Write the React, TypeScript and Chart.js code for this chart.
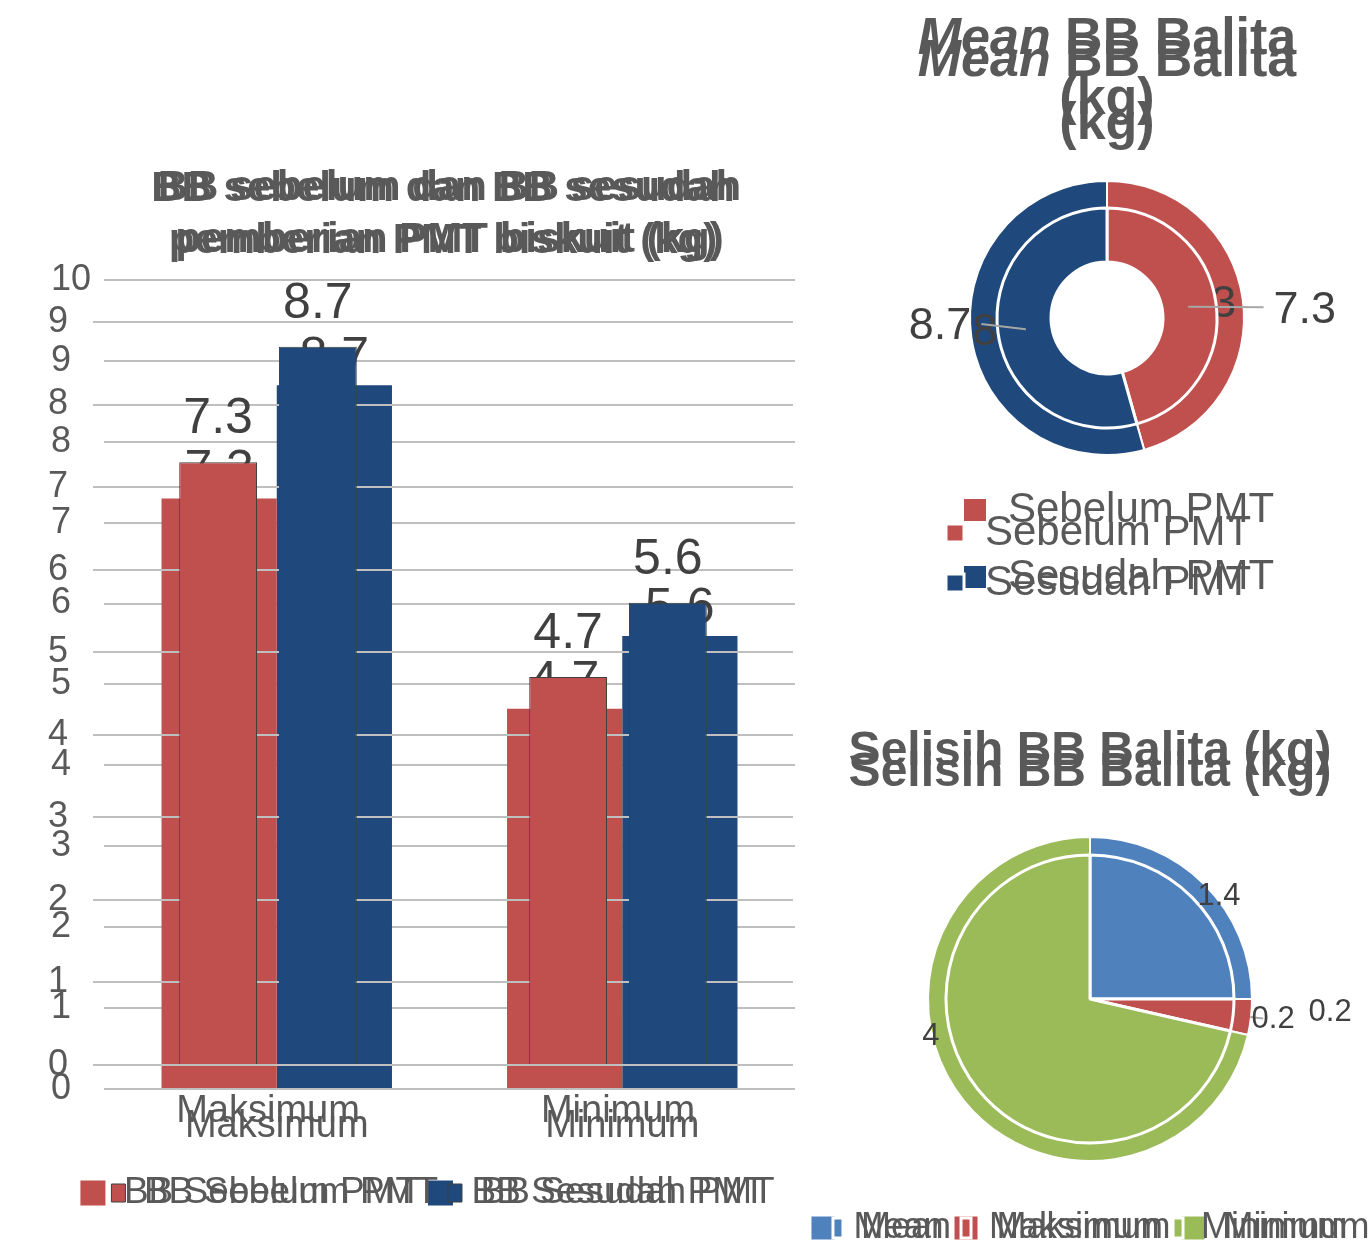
import React, { useEffect, useRef } from 'react';
import { Chart, registerables } from 'chart.js';

Chart.register(...registerables);

// ---------------- data ----------------
const barCategories = ['Maksimum', 'Minimum'];
const barSeriesNames = ['BB Sebelum PMT', 'BB Sesudah PMT'];
const bbSebelum = [7.3, 4.7];
const bbSesudah = [8.7, 5.6];
const barTitle = ['BB sebelum dan BB sesudah', 'pemberian PMT biskuit (kg)'];

const meanLabels = ['Sebelum PMT', 'Sesudah PMT'];
const meanValues = [7.3, 8.7];

const selisihLabels = ['Mean', 'Maksimum', 'Minimum'];
const selisihValues = [1.4, 0.2, 4];

// ---------------- styles ----------------
const FONT = '"Liberation Sans", Arial, Helvetica, sans-serif';
const GREY = '#595959';
const LABEL = '#404040';
const RED = '#C0504D';
const NAVY = '#1F497D';
const BLUE = '#4F81BD';
const GREEN = '#9BBB59';

type Seg = { text: string; italic?: boolean };

function makeRichTitle(id: string, lines: Seg[][], ys: number[], size: number) {
  return {
    id,
    afterDraw(chart: any) {
      const ctx = chart.ctx;
      const ca = chart.chartArea;
      const cx = (ca.left + ca.right) / 2;
      ctx.save();
      ctx.fillStyle = GREY;
      ctx.textBaseline = 'middle';
      ctx.textAlign = 'left';
      lines.forEach((line, li) => {
        const segs = line.map((s) => ({
          text: s.text,
          font: `${s.italic ? 'italic ' : ''}bold ${size}px ${FONT}`,
          w: 0,
        }));
        let total = 0;
        segs.forEach((s) => {
          ctx.font = s.font;
          s.w = ctx.measureText(s.text).width;
          total += s.w;
        });
        let x = cx - total / 2;
        segs.forEach((s) => {
          ctx.font = s.font;
          ctx.fillText(s.text, x, ys[li]);
          x += s.w;
        });
      });
      ctx.restore();
    },
  };
}

function makeBarLabels(id: string, offset: number, size: number) {
  return {
    id,
    afterDatasetsDraw(chart: any) {
      const ctx = chart.ctx;
      ctx.save();
      ctx.font = `${size}px ${FONT}`;
      ctx.fillStyle = LABEL;
      ctx.textAlign = 'center';
      ctx.textBaseline = 'alphabetic';
      chart.data.datasets.forEach((ds: any, i: number) => {
        const meta = chart.getDatasetMeta(i);
        meta.data.forEach((el: any, j: number) => {
          ctx.fillText(String(ds.data[j]), el.x, el.y - offset);
        });
      });
      ctx.restore();
    },
  };
}

type ArcLabel = {
  index: number;
  r: number; // factor of outer radius
  d: number; // angle offset (deg) from slice middle
  leader?: { kind: 'toText' | 'radial'; from: number; to?: number };
};

function makeArcLabels(id: string, under: ArcLabel[], over: ArcLabel[], size: number) {
  const drawSet = (chart: any, specs: ArcLabel[]) => {
    const ctx = chart.ctx;
    const meta = chart.getDatasetMeta(0);
    const values = chart.data.datasets[0].data;
    ctx.save();
    ctx.font = `${size}px ${FONT}`;
    ctx.fillStyle = LABEL;
    ctx.textAlign = 'center';
    ctx.textBaseline = 'middle';
    specs.forEach((sp) => {
      const arc = meta.data[sp.index];
      if (!arc) return;
      const p = arc.getProps(['x', 'y', 'startAngle', 'endAngle', 'outerRadius'], true);
      const midRaw = (p.startAngle + p.endAngle) / 2;
      const mid = midRaw + (sp.d * Math.PI) / 180;
      const r = p.outerRadius * sp.r;
      const lx = p.x + Math.cos(mid) * r;
      const ly = p.y + Math.sin(mid) * r;
      const text = String(values[sp.index]);
      const tw = ctx.measureText(text).width;
      if (sp.leader) {
        ctx.save();
        ctx.strokeStyle = '#a6a6a6';
        ctx.lineWidth = 2;
        ctx.beginPath();
        const fr = p.outerRadius * sp.leader.from;
        const x1 = p.x + Math.cos(midRaw) * fr;
        const y1 = p.y + Math.sin(midRaw) * fr;
        ctx.moveTo(x1, y1);
        if (sp.leader.kind === 'toText') {
          const side = lx > p.x ? -1 : 1;
          ctx.lineTo(lx + side * (tw / 2 + 10), ly - 3);
        } else {
          const tr = p.outerRadius * (sp.leader.to || 1);
          ctx.lineTo(p.x + Math.cos(midRaw) * tr, p.y + Math.sin(midRaw) * tr);
        }
        ctx.stroke();
        ctx.restore();
      }
      ctx.fillText(text, lx, ly);
    });
    ctx.restore();
  };
  return {
    id,
    beforeDatasetsDraw(chart: any) {
      drawSet(chart, under);
    },
    afterDatasetsDraw(chart: any) {
      drawSet(chart, over);
    },
  };
}

// ---------------- bar chart configs ----------------
type BarLayer = {
  padL: number;
  padR: number;
  padB: number;
  yMax: number;
  yWidth: number;
  yPad: number;
  cross: 'near' | 'far';
  xHeight: number;
  xPad: number;
  titlePad: { top: number; bottom: number };
  cat: number;
  bar: number;
  borderW: number;
  boxW: number;
  boxH: number;
  legendFull: boolean;
  labelOffset: number;
  id: string;
};

function barConfig(p: BarLayer): any {
  return {
    type: 'bar',
    data: {
      labels: barCategories,
      datasets: [
        {
          label: barSeriesNames[0],
          data: bbSebelum,
          backgroundColor: RED,
          borderColor: '#3f3f3f',
          borderWidth: p.borderW,
        },
        {
          label: barSeriesNames[1],
          data: bbSesudah,
          backgroundColor: NAVY,
          borderColor: '#3f3f3f',
          borderWidth: p.borderW,
        },
      ],
    },
    options: {
      animation: false,
      responsive: true,
      maintainAspectRatio: false,
      layout: { padding: { left: p.padL, right: p.padR, top: 0, bottom: p.padB } },
      datasets: { bar: { categoryPercentage: p.cat, barPercentage: p.bar } },
      scales: {
        x: {
          grid: { display: false, drawTicks: false },
          border: { display: false },
          ticks: { color: GREY, font: { family: FONT, size: 38 }, padding: p.xPad },
          afterFit: (s: any) => {
            s.height = p.xHeight;
          },
        },
        y: {
          min: 0,
          max: p.yMax,
          ticks: {
            stepSize: 1,
            color: GREY,
            font: { family: FONT, size: 36 },
            padding: p.yPad,
            crossAlign: p.cross,
          },
          grid: { color: '#bfbfbf', lineWidth: 2, drawTicks: false },
          border: { display: false },
          afterFit: (s: any) => {
            s.width = p.yWidth;
          },
        },
      },
      plugins: {
        title: {
          display: true,
          text: barTitle,
          fullSize: false,
          color: GREY,
          font: { family: FONT, size: 42, weight: 'bold', lineHeight: 1.24 },
          padding: p.titlePad,
        },
        legend: {
          position: 'bottom',
          fullSize: p.legendFull,
          labels: {
            color: GREY,
            font: { family: FONT, size: 37 },
            boxWidth: p.boxW,
            boxHeight: p.boxH,
            padding: 10,
          },
        },
        tooltip: { enabled: false },
      },
    },
    plugins: [makeBarLabels(p.id, p.labelOffset, 50)],
  };
}

// ---------------- doughnut configs ----------------
function meanConfig(p: {
  padL: number;
  padR: number;
  padT: number;
  padB: number;
  radius: number;
  cutout: string;
  borderW: number;
  font: number;
  boxW: number;
  lpad: number;
  titleYs: number[];
  under: ArcLabel[];
  over: ArcLabel[];
  id: string;
}): any {
  return {
    type: 'doughnut',
    data: {
      labels: meanLabels,
      datasets: [
        {
          data: meanValues,
          backgroundColor: [RED, NAVY],
          borderColor: '#ffffff',
          borderWidth: p.borderW,
          radius: p.radius,
          cutout: p.cutout,
        },
      ],
    },
    options: {
      animation: false,
      responsive: true,
      maintainAspectRatio: false,
      layout: { padding: { left: p.padL, right: p.padR, top: p.padT, bottom: p.padB } },
      plugins: {
        title: { display: false },
        legend: {
          position: 'bottom',
          align: 'start',
          labels: {
            color: GREY,
            font: { family: FONT, size: p.font },
            boxWidth: p.boxW,
            boxHeight: p.boxW,
            padding: p.lpad,
          },
        },
        tooltip: { enabled: false },
      },
    },
    plugins: [
      makeRichTitle(
        p.id + 't',
        [[{ text: 'Mean', italic: true }, { text: ' BB Balita' }], [{ text: '(kg)' }]],
        p.titleYs,
        52
      ),
      makeArcLabels(p.id + 'l', p.under, p.over, 45),
    ],
  };
}

function selisihConfig(p: {
  radius: number;
  borderW: number;
  boxW: number;
  boxH: number;
  titleY: number;
  over: ArcLabel[];
  id: string;
}): any {
  return {
    type: 'pie',
    data: {
      labels: selisihLabels,
      datasets: [
        {
          data: selisihValues,
          backgroundColor: [BLUE, RED, GREEN],
          borderColor: '#ffffff',
          borderWidth: p.borderW,
          radius: p.radius,
        },
      ],
    },
    options: {
      animation: false,
      responsive: true,
      maintainAspectRatio: false,
      layout: { padding: { left: 0, right: 0, top: 98, bottom: 4 } },
      plugins: {
        title: { display: false },
        legend: {
          position: 'bottom',
          labels: {
            color: GREY,
            font: { family: FONT, size: 36 },
            boxWidth: p.boxW,
            boxHeight: p.boxH,
            padding: 10,
          },
        },
        tooltip: { enabled: false },
      },
    },
    plugins: [
      makeRichTitle(p.id + 't', [[{ text: 'Selisih BB Balita (kg)' }]], [p.titleY], 48),
      makeArcLabels(p.id + 'l', [], p.over, 31),
    ],
  };
}

// ---------------- component ----------------
function ChartBox({ make, box }: { make: () => any; box: { left: number; top: number; width: number; height: number } }) {
  const ref = useRef<HTMLCanvasElement>(null);
  useEffect(() => {
    const chart = new Chart(ref.current as HTMLCanvasElement, make());
    return () => chart.destroy();
  }, []);
  return (
    <div style={{ position: 'absolute', left: box.left, top: box.top, width: box.width, height: box.height }}>
      <canvas ref={ref} style={{ display: 'block' }} />
    </div>
  );
}

export default function App() {
  const bar1 = () =>
    barConfig({
      id: 'bl1',
      padL: 51,
      padR: 55,
      padB: 22.5,
      yMax: 10,
      yWidth: 53,
      yPad: 6,
      cross: 'far',
      xHeight: 75.5,
      xPad: 15,
      titlePad: { top: 12, bottom: 13.8 },
      cat: 0.667,
      bar: 1.0,
      borderW: 0,
      boxW: 25,
      boxH: 25,
      legendFull: true,
      labelOffset: 13,
    });
  const bar2 = () =>
    barConfig({
      id: 'bl2',
      padL: 40,
      padR: 57,
      padB: 22.5,
      yMax: 9,
      yWidth: 53,
      yPad: 25,
      cross: 'near',
      xHeight: 99.5,
      xPad: 24,
      titlePad: { top: 13, bottom: 54.8 },
      cat: 0.57,
      bar: 0.78,
      borderW: 1,
      boxW: 14,
      boxH: 18,
      legendFull: false,
      labelOffset: 29,
    });
  const mean1 = () =>
    meanConfig({
      id: 'm1',
      padL: 58,
      padR: 95,
      padT: 172,
      padB: 12,
      radius: 137,
      cutout: '40.9%',
      borderW: 2,
      font: 42,
      boxW: 24,
      lpad: 25,
      titleYs: [40, 100],
      under: [],
      over: [],
    });
  const mean2 = () =>
    meanConfig({
      id: 'm2',
      padL: 58,
      padR: 95,
      padT: 132,
      padB: 6,
      radius: 110,
      cutout: '50.9%',
      borderW: 3,
      font: 42,
      boxW: 18,
      lpad: 8,
      titleYs: [62, 125],
      under: [
        { index: 0, r: 0.9, d: 0 },
        { index: 1, r: 0.95, d: 0 },
      ],
      over: [
        { index: 0, r: 1.8, d: 5.6, leader: { kind: 'toText', from: 0.745 } },
        { index: 1, r: 1.52, d: 4.8, leader: { kind: 'toText', from: 0.745 } },
      ],
    });
  const pie1 = () =>
    selisihConfig({ id: 'p1', radius: 162, borderW: 2, boxW: 25, boxH: 25, titleY: 52, over: [] });
  const pie2 = () =>
    selisihConfig({
      id: 'p2',
      radius: 144,
      borderW: 3,
      boxW: 10,
      boxH: 20,
      titleY: 73,
      over: [
        { index: 0, r: 1.146, d: 6.4 },
        { index: 1, r: 1.67, d: -3.3 },
        { index: 1, r: 1.28, d: 0, leader: { kind: 'radial', from: 1.12, to: 1.21 } },
        { index: 2, r: 1.135, d: 25.2 },
      ],
    });

  return (
    <div
      style={{
        position: 'absolute',
        left: 0,
        top: 0,
        width: 1371,
        height: 1244,
        overflow: 'hidden',
        background: '#ffffff',
      }}
    >
      <ChartBox make={bar1} box={{ left: 0, top: 150, width: 850, height: 1094 }} />
      <ChartBox make={bar2} box={{ left: 0, top: 150, width: 850, height: 1094 }} />
      <ChartBox make={mean1} box={{ left: 880, top: 0, width: 491, height: 620 }} />
      <ChartBox make={mean2} box={{ left: 880, top: 0, width: 491, height: 620 }} />
      <ChartBox make={pie1} box={{ left: 780, top: 700, width: 620, height: 560 }} />
      <ChartBox make={pie2} box={{ left: 780, top: 700, width: 620, height: 560 }} />
    </div>
  );
}
